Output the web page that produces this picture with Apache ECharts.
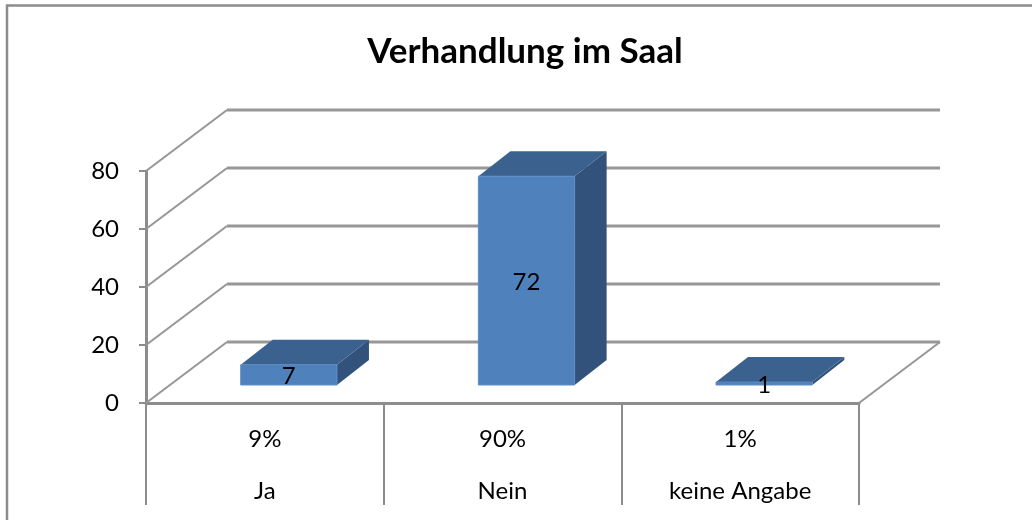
<!DOCTYPE html>
<html>
<head>
<meta charset="utf-8">
<title>Verhandlung im Saal</title>
<script src="https://cdn.jsdelivr.net/npm/echarts@6/dist/echarts.min.js"></script>
<style>
  html, body { margin: 0; padding: 0; background: #fff; }
  #chart { width: 1032px; height: 520px; }
</style>
</head>
<body>
<div id="chart"></div>
<script>
var titleText = 'Verhandlung im Saal';
var categories = ['Ja', 'Nein', 'keine Angabe'];
var shares = ['9%', '90%', '1%'];
var values = [7, 72, 1];
var yTicks = [0, 20, 40, 60, 80];

var font = 'Lato';
var gridColor = '#8c8c8c';
// depth of the fake 3d box, and of the bars inside it
var wallDx = 81, wallDy = 61;
var barShiftX = 24, barShiftY = 18;
var barDx = 32, barDy = 25;

var myChart = echarts.init(document.getElementById('chart'), null, { renderer: 'canvas' });

function renderWall(params, api) {
  var cs = params.coordSys;
  var left = cs.x, right = cs.x + cs.width;
  var y = api.coord([0, api.value(0)])[1];
  var diagonal = { stroke: '#969696', lineWidth: 2 };
  var children = [
    {
      type: 'line',
      shape: { x1: left, y1: y, x2: left + wallDx, y2: y - wallDy },
      style: diagonal
    },
    {
      type: 'line',
      shape: { x1: left + wallDx, y1: y - wallDy, x2: right + wallDx, y2: y - wallDy },
      style: { stroke: '#979797', lineWidth: 3 }
    }
  ];
  if (api.value(0) === 0) {
    // right edge of the floor
    children.push({
      type: 'line',
      shape: { x1: right, y1: y, x2: right + wallDx, y2: y - wallDy },
      style: diagonal
    });
  }
  return { type: 'group', children: children };
}

function renderBar(params, api) {
  var i = api.value(0);
  var val = api.value(1);
  var top = api.coord([i, val]);
  var base = api.coord([i, 0]);
  var w = api.size([1, 0])[0] * 0.405;
  var x0 = top[0] + barShiftX - w / 2;
  var x1 = x0 + w;
  var yt = top[1] - barShiftY;
  var yb = base[1] - barShiftY;
  return {
    type: 'group',
    children: [
      {
        type: 'polygon',
        shape: { points: [[x1, yt], [x1 + barDx, yt - barDy], [x1 + barDx, yb - barDy], [x1, yb]] },
        style: { fill: '#32527b' }
      },
      {
        type: 'polygon',
        shape: { points: [[x0, yt], [x0 + barDx, yt - barDy], [x1 + barDx, yt - barDy], [x1, yt]] },
        style: { fill: '#3b618f' }
      },
      {
        type: 'rect',
        shape: { x: x0, y: yt, width: w, height: yb - yt },
        style: { fill: '#4f81bd', stroke: '#5d8cc4', lineWidth: 1 }
      },
      {
        type: 'text',
        style: {
          x: (x0 + x1) / 2,
          y: (yt + yb) / 2 + 1.5,
          text: String(val),
          fill: '#000',
          font: '24px ' + font,
          align: 'center',
          verticalAlign: 'middle'
        },
        z2: 10
      }
    ]
  };
}

var option = {
  animation: false,
  backgroundColor: '#fff',
  title: {
    text: titleText,
    left: 520,
    top: 29,
    textAlign: 'center',
    textStyle: { fontFamily: font, fontWeight: 'bold', fontSize: 35, color: '#000' }
  },
  graphic: [{
    // the frame only shows on the top and left in the original
    type: 'polyline',
    shape: { points: [[7, 520], [7, 5.5], [1032, 5.5]] },
    style: { fill: null, stroke: gridColor, lineWidth: 2.5 },
    silent: true
  }],
  grid: { left: 146, right: 173, top: 171, bottom: 117, containLabel: false, outerBoundsMode: 'none' },
  xAxis: {
    type: 'category',
    data: categories,
    axisLine: { lineStyle: { color: gridColor, width: 3 } },
    axisTick: { show: true, alignWithLabel: false, interval: 0, length: 102, lineStyle: { color: gridColor, width: 2 } },
    axisLabel: {
      interval: 0,
      margin: 10,
      fontFamily: font,
      fontSize: 24,
      color: '#000',
      lineHeight: 52,
      formatter: function (name, i) { return shares[i] + '\n' + name; }
    }
  },
  yAxis: {
    type: 'value',
    min: 0,
    max: 80,
    interval: 20,
    splitLine: { show: false },
    axisLine: { show: true, lineStyle: { color: gridColor, width: 3 } },
    axisTick: { show: true, length: 7, lineStyle: { color: gridColor, width: 2 } },
    axisLabel: { margin: 27, fontFamily: font, fontSize: 24, color: '#000' }
  },
  series: [
    {
      type: 'custom',
      renderItem: renderWall,
      data: yTicks.map(function (t) { return [t]; }),
      encode: { y: 0 },
      silent: true,
      z: 1
    },
    {
      type: 'custom',
      renderItem: renderBar,
      data: values.map(function (v, i) { return [i, v]; }),
      encode: { x: 0, y: 1 },
      z: 2
    }
  ]
};
myChart.setOption(option);
</script>
</body>
</html>
